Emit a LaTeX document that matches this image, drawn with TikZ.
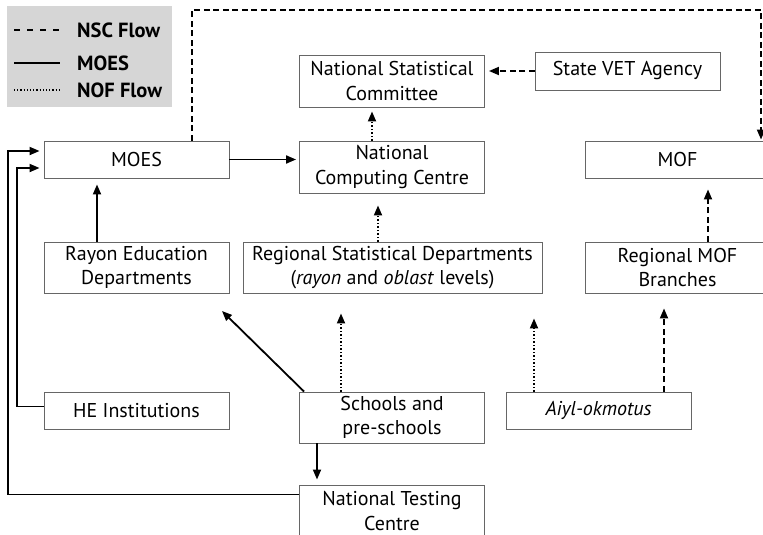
\documentclass[tikz,border=0pt]{standalone}
\usepackage{fontspec}
\setmainfont{PT Sans}
\usetikzlibrary{arrows.meta}
\begin{document}
\begin{tikzpicture}[x=1pt,y=-1pt,
  box/.style={draw=black!60, line width=0.9pt, rectangle, minimum width=185pt, inner sep=0pt, align=center, font=\fontsize{20}{24.5}\selectfont},
  conn/.style={line width=1.8pt, -{Triangle[length=10pt,width=8pt]}},
  sflow/.style={conn},
  dflow/.style={conn, dash pattern=on 6pt off 3.5pt},
  pflow/.style={conn, dash pattern=on 1.5pt off 2pt},
  legtext/.style={anchor=west, font=\fontsize{20.5}{22}\selectfont\bfseries, inner sep=0pt}
]
\useasboundingbox (0,0) rectangle (763,535);
\clip (0,0) rectangle (763,535);

% legend
\node[fill=black!16, minimum width=165pt, minimum height=101pt, inner sep=0pt] (legend) at (89.5,56.5) {};
\coordinate (la1) at (14,30); \coordinate (lb1) at (60,30);
\coordinate (la2) at (14,63); \coordinate (lb2) at (60,63);
\coordinate (la3) at (14,90); \coordinate (lb3) at (60,90);
\draw[line width=1.5pt, dash pattern=on 6pt off 7pt] (la1) -- (lb1);
\draw[line width=1.5pt] (la2) -- (lb2);
\draw[line width=1.4pt, dash pattern=on 1.2pt off 2pt] (la3) -- (lb3);
\node[legtext] (t1) at (77,30) {NSC Flow};
\node[legtext] (t2) at (77,63) {MOES};
\node[legtext] (t3) at (77,90) {NOF Flow};

% boxes
\node[box, minimum height=52pt] (NSC) at (392,81) {National Statistical\\Committee};
\node[box, minimum height=38pt] (SVA) at (627.5,71) {State VET Agency};
\node[box, minimum height=52pt] (NCC) at (392,167) {National\\Computing Centre};
\node[box, minimum height=37pt] (MOES) at (136.5,159.5) {MOES};
\node[box, minimum height=37pt] (MOF) at (677.5,159.5) {MOF};
\node[box, minimum height=51pt] (RED) at (136.5,267.5) {Rayon Education\\Departments};
\node[box, minimum height=51pt, minimum width=299pt] (RSD) at (392.5,267.5) {Regional Statistical Departments\\(\textit{rayon} and \textit{oblast} levels)};
\node[box, minimum height=51pt] (RMB) at (677.5,267.5) {Regional MOF\\Branches};
\node[box, minimum height=37pt] (HE) at (136.5,410.5) {HE Institutions};
\node[box, minimum height=51pt] (SCH) at (392,417.5) {Schools and\\pre-schools};
\node[box, minimum height=37pt] (AIYL) at (598.5,410.5) {\textit{Aiyl-okmotus}};
\node[box, minimum height=52pt] (NTC) at (392,511) {National Testing\\Centre};

% connectors
\coordinate (tl) at (192,10);
\coordinate (tr) at (761,10);
\draw[dflow, shorten >=1pt] (tl |- MOES.north) -- (tl) -- (tr) -- (tr |- MOF.north);
\draw[dflow, shorten >=4pt] (SVA.west) -- (SVA.west -| NSC.east);
\coordinate (x372) at (372,0);
\draw[pflow, shorten >=4pt] (x372 |- NCC.north) -- (x372 |- NSC.south);
\draw[sflow, shorten >=3pt] (MOES.east) -- (MOES.east -| NCC.west);
\coordinate (x97) at (97,0);
\draw[sflow, shorten >=6pt] (x97 |- RED.north) -- (x97 |- MOES.south);
\coordinate (x378) at (378,0);
\draw[pflow, shorten >=12pt] (x378 |- RSD.north) -- (x378 |- NCC.south);
\coordinate (x708) at (708,0);
\draw[dflow, shorten >=11pt] (x708 |- RMB.north) -- (x708 |- MOF.south);

\coordinate (L1) at (8,151);
\coordinate (L2) at (17,168);
\draw[sflow, shorten >=4pt] ([yshift=-10pt]NTC.north west) -| (L1) -- (L1 -| MOES.west);
\draw[sflow, shorten >=4pt] ([yshift=4pt]HE.west) -| (L2) -- (L2 -| MOES.west);

\coordinate (dtip) at (222,311);
\draw[sflow] ([xshift=5pt]SCH.north west) -- (dtip);
\coordinate (x341) at (341,0);
\draw[pflow, shorten >=20pt] (x341 |- SCH.north) -- (x341 |- RSD.south);
\coordinate (x317) at (317,0);
\draw[sflow, shorten >=5pt] (x317 |- SCH.south) -- (x317 |- NTC.north);
\coordinate (x534) at (534,0);
\draw[pflow, shorten >=25pt] (x534 |- AIYL.north) -- (x534 |- RSD.south);
\coordinate (x664) at (664,0);
\draw[dflow, shorten >=15pt] (x664 |- AIYL.north) -- (x664 |- RMB.south);
\end{tikzpicture}
\end{document}
